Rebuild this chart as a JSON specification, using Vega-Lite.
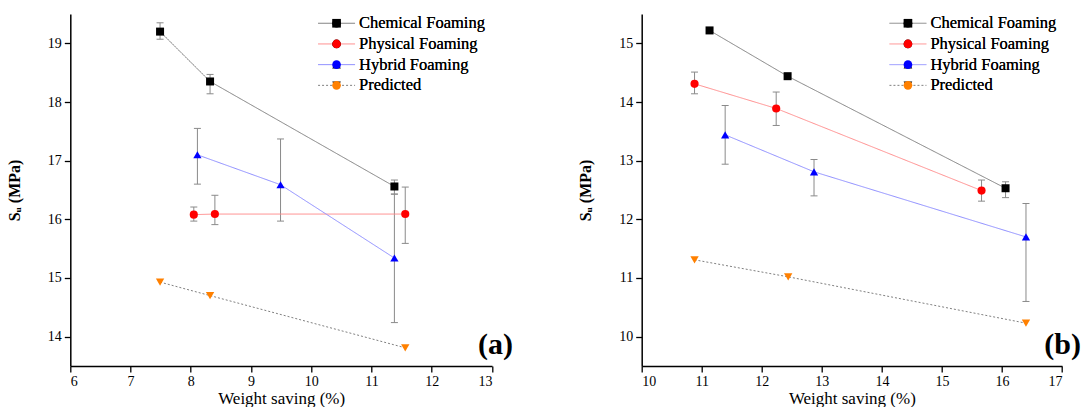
{
  "$schema": "https://vega.github.io/schema/vega-lite/v6.json",
  "background": "white",
  "padding": {"left": 6.3, "top": 14, "right": 0, "bottom": 0},
  "spacing": 64.4,
  "config": {
    "view": {"stroke": null},
    "font": "Liberation Serif",
    "axis": {
      "labelFont": "Liberation Serif", "titleFont": "Liberation Serif",
      "labelFontSize": 14, "titleFontSize": 17,
      "labelColor": "black", "titleColor": "black",
      "domainColor": "black", "tickColor": "black",
      "domainWidth": 1.5, "tickWidth": 1.3, "grid": false,
      "titleFontWeight": "normal", "labelPadding": 3
    }
  },
  "datasets": {
    "a": [
      {"series": "Chemical Foaming", "x": 7.49, "y": 19.20, "lo": 19.07, "hi": 19.35},
      {"series": "Chemical Foaming", "x": 8.32, "y": 18.35, "lo": 18.14, "hi": 18.47},
      {"series": "Chemical Foaming", "x": 11.38, "y": 16.56, "lo": 16.43, "hi": 16.67},
      {"series": "Physical Foaming", "x": 8.05, "y": 16.08, "lo": 15.97, "hi": 16.21},
      {"series": "Physical Foaming", "x": 8.40, "y": 16.09, "lo": 15.91, "hi": 16.41},
      {"series": "Physical Foaming", "x": 11.56, "y": 16.09, "lo": 15.59, "hi": 16.55},
      {"series": "Hybrid Foaming", "x": 8.11, "y": 17.10, "lo": 16.60, "hi": 17.55},
      {"series": "Hybrid Foaming", "x": 9.49, "y": 16.59, "lo": 15.97, "hi": 17.37},
      {"series": "Hybrid Foaming", "x": 11.38, "y": 15.34, "lo": 14.24, "hi": 16.43},
      {"series": "Predicted", "x": 7.49, "y": 14.93},
      {"series": "Predicted", "x": 8.32, "y": 14.70},
      {"series": "Predicted", "x": 11.56, "y": 13.81}
    ],
    "b": [
      {"series": "Chemical Foaming", "x": 11.13, "y": 15.22, "lo": 15.19, "hi": 15.25},
      {"series": "Chemical Foaming", "x": 12.43, "y": 14.44, "lo": 14.40, "hi": 14.47},
      {"series": "Chemical Foaming", "x": 16.06, "y": 12.53, "lo": 12.37, "hi": 12.64},
      {"series": "Physical Foaming", "x": 10.88, "y": 14.31, "lo": 14.14, "hi": 14.51},
      {"series": "Physical Foaming", "x": 12.24, "y": 13.89, "lo": 13.60, "hi": 14.17},
      {"series": "Physical Foaming", "x": 15.66, "y": 12.49, "lo": 12.31, "hi": 12.67},
      {"series": "Hybrid Foaming", "x": 11.39, "y": 13.44, "lo": 12.94, "hi": 13.94},
      {"series": "Hybrid Foaming", "x": 12.87, "y": 12.81, "lo": 12.40, "hi": 13.02},
      {"series": "Hybrid Foaming", "x": 16.40, "y": 11.70, "lo": 10.60, "hi": 12.27},
      {"series": "Predicted", "x": 10.88, "y": 11.31},
      {"series": "Predicted", "x": 12.44, "y": 11.02},
      {"series": "Predicted", "x": 16.40, "y": 10.23}
    ]
  },
  "hconcat": [
    {
      "width": 421.7, "height": 352,
      "title": {"text": "(a)", "orient": "top", "anchor": "end", "frame": "group", "offset": 0, "dy": 370, "dx": 21, "baseline": "alphabetic", "fontSize": 30, "fontWeight": "bold", "font": "Liberation Serif", "color": "black"},
      "data": {"name": "a"},
      "layer": [
        {
          "transform": [{"filter": "datum.lo != null"}],
          "mark": {"type": "rule", "color": "#8a8a8a", "strokeWidth": 1},
          "encoding": {
            "x": {"field": "x", "type": "quantitative", "scale": {"domain": [6, 13], "nice": false, "zero": false}, "axis": {"title": "Weight saving (%)", "titlePadding": 2, "labelFont": "Liberation Serif", "values": [6, 6.5, 7, 7.5, 8, 8.5, 9, 9.5, 10, 10.5, 11, 11.5, 12, 12.5, 13], "labelExpr": "datum.value % 1 === 0 ? format(datum.value, 'd') : ''", "tickSize": {"condition": {"test": "datum.value % 1 !== 0", "value": 3.5}, "value": 6}}},
            "y": {"field": "lo", "type": "quantitative", "scale": {"domain": [13.5, 19.5], "nice": false, "zero": false}, "axis": {"title": "Sᵤ (MPa)", "titleFontWeight": "bold", "titleFontSize": 16, "titlePadding": 25, "labelFont": "Liberation Serif", "values": [14, 14.5, 15, 15.5, 16, 16.5, 17, 17.5, 18, 18.5, 19, 19.5], "labelExpr": "datum.value % 1 === 0 ? format(datum.value, 'd') : ''", "tickSize": {"condition": {"test": "datum.value % 1 !== 0", "value": 3.5}, "value": 6}}},
            "y2": {"field": "hi"}
          }
        },
        {
          "transform": [{"filter": "datum.lo != null"}],
          "mark": {"type": "tick", "orient": "horizontal", "size": 7, "thickness": 1, "color": "#8a8a8a", "opacity": 1},
          "encoding": {
            "x": {"field": "x", "type": "quantitative"},
            "y": {"field": "lo", "type": "quantitative"}
          }
        },
        {
          "transform": [{"filter": "datum.hi != null"}],
          "mark": {"type": "tick", "orient": "horizontal", "size": 7, "thickness": 1, "color": "#8a8a8a", "opacity": 1},
          "encoding": {
            "x": {"field": "x", "type": "quantitative"},
            "y": {"field": "hi", "type": "quantitative"}
          }
        },
        {
          "mark": {"type": "line", "strokeWidth": 1},
          "encoding": {
            "x": {"field": "x", "type": "quantitative"},
            "y": {"field": "y", "type": "quantitative"},
            "stroke": {"field": "series", "type": "nominal", "scale": {"domain": ["Chemical Foaming", "Physical Foaming", "Hybrid Foaming", "Predicted"], "range": ["#808080", "#ff8c8c", "#8c8cff", "#808080"]}, "legend": {"title": null, "orient": "none", "legendX": 258, "legendY": 1, "symbolType": "M-3.7,0H3.7", "symbolSize": 100, "symbolStrokeWidth": 1, "symbolFillColor": "transparent", "labelOpacity": 0, "labelFontSize": 16.5, "labelFont": "Liberation Serif", "rowPadding": 3.7, "padding": 0, "zindex": 0}},
            "strokeDash": {"field": "series", "type": "nominal", "scale": {"domain": ["Chemical Foaming", "Physical Foaming", "Hybrid Foaming", "Predicted"], "range": [[1, 0], [1, 0], [1, 0], [2, 2]]}, "legend": {"title": null, "orient": "none", "legendX": 258, "legendY": 1, "symbolType": "M-3.7,0H3.7", "symbolSize": 100, "symbolStrokeWidth": 1, "symbolFillColor": "transparent", "labelOpacity": 0, "labelFontSize": 16.5, "labelFont": "Liberation Serif", "rowPadding": 3.7, "padding": 0, "zindex": 0}}
          }
        },
        {
          "mark": {"type": "point", "filled": true, "opacity": 1, "strokeWidth": 0},
          "encoding": {
            "x": {"field": "x", "type": "quantitative"},
            "y": {"field": "y", "type": "quantitative"},
            "fill": {"field": "series", "type": "nominal", "sort": ["Chemical Foaming", "Physical Foaming", "Hybrid Foaming", "Predicted"], "scale": {"range": ["#000000", "#ff0000", "#0000ff", "#ff8000"]}, "legend": {"title": null, "orient": "none", "legendX": 258, "legendY": 1, "symbolSize": 75, "symbolStrokeWidth": 0, "symbolOpacity": 1, "labelOffset": 14.2, "labelFontSize": 16.5, "labelFont": "Liberation Serif", "labelColor": "black", "rowPadding": 3.7, "padding": 0, "zindex": 1}},
            "shape": {"field": "series", "type": "nominal", "sort": ["Chemical Foaming", "Physical Foaming", "Hybrid Foaming", "Predicted"], "scale": {"range": ["square", "circle", "triangle-up", "triangle-down"]}, "legend": {"title": null, "orient": "none", "legendX": 258, "legendY": 1, "symbolSize": 75, "symbolStrokeWidth": 0, "symbolOpacity": 1, "labelOffset": 14.2, "labelFontSize": 16.5, "labelFont": "Liberation Serif", "labelColor": "black", "rowPadding": 3.7, "padding": 0, "zindex": 1}},
            "size": {"field": "series", "type": "nominal", "scale": {"domain": ["Chemical Foaming", "Physical Foaming", "Hybrid Foaming", "Predicted"], "range": [64, 70, 100, 100]}, "legend": null}
          }
        }
      ]
    },
    {
      "width": 420.3, "height": 352,
      "title": {"text": "(b)", "orient": "top", "anchor": "end", "frame": "group", "offset": 0, "dy": 370, "dx": 19, "baseline": "alphabetic", "fontSize": 30, "fontWeight": "bold", "font": "Liberation Serif", "color": "black"},
      "data": {"name": "b"},
      "layer": [
        {
          "transform": [{"filter": "datum.lo != null"}],
          "mark": {"type": "rule", "color": "#8a8a8a", "strokeWidth": 1},
          "encoding": {
            "x": {"field": "x", "type": "quantitative", "scale": {"domain": [10, 17], "nice": false, "zero": false}, "axis": {"title": "Weight saving (%)", "titlePadding": 2, "labelFont": "Liberation Serif", "values": [10, 10.5, 11, 11.5, 12, 12.5, 13, 13.5, 14, 14.5, 15, 15.5, 16, 16.5, 17], "labelExpr": "datum.value % 1 === 0 ? format(datum.value, 'd') : ''", "tickSize": {"condition": {"test": "datum.value % 1 !== 0", "value": 3.5}, "value": 6}}},
            "y": {"field": "lo", "type": "quantitative", "scale": {"domain": [9.5, 15.5], "nice": false, "zero": false}, "axis": {"title": "Sᵤ (MPa)", "titleFontWeight": "bold", "titleFontSize": 16, "titlePadding": 25, "labelFont": "Liberation Serif", "values": [10, 10.5, 11, 11.5, 12, 12.5, 13, 13.5, 14, 14.5, 15, 15.5], "labelExpr": "datum.value % 1 === 0 ? format(datum.value, 'd') : ''", "tickSize": {"condition": {"test": "datum.value % 1 !== 0", "value": 3.5}, "value": 6}}},
            "y2": {"field": "hi"}
          }
        },
        {
          "transform": [{"filter": "datum.lo != null"}],
          "mark": {"type": "tick", "orient": "horizontal", "size": 7, "thickness": 1, "color": "#8a8a8a", "opacity": 1},
          "encoding": {
            "x": {"field": "x", "type": "quantitative"},
            "y": {"field": "lo", "type": "quantitative"}
          }
        },
        {
          "transform": [{"filter": "datum.hi != null"}],
          "mark": {"type": "tick", "orient": "horizontal", "size": 7, "thickness": 1, "color": "#8a8a8a", "opacity": 1},
          "encoding": {
            "x": {"field": "x", "type": "quantitative"},
            "y": {"field": "hi", "type": "quantitative"}
          }
        },
        {
          "mark": {"type": "line", "strokeWidth": 1},
          "encoding": {
            "x": {"field": "x", "type": "quantitative"},
            "y": {"field": "y", "type": "quantitative"},
            "stroke": {"field": "series", "type": "nominal", "scale": {"domain": ["Chemical Foaming", "Physical Foaming", "Hybrid Foaming", "Predicted"], "range": ["#808080", "#ff8c8c", "#8c8cff", "#808080"]}, "legend": {"title": null, "orient": "none", "legendX": 258, "legendY": 1, "symbolType": "M-3.7,0H3.7", "symbolSize": 100, "symbolStrokeWidth": 1, "symbolFillColor": "transparent", "labelOpacity": 0, "labelFontSize": 16.5, "labelFont": "Liberation Serif", "rowPadding": 3.7, "padding": 0, "zindex": 0}},
            "strokeDash": {"field": "series", "type": "nominal", "scale": {"domain": ["Chemical Foaming", "Physical Foaming", "Hybrid Foaming", "Predicted"], "range": [[1, 0], [1, 0], [1, 0], [2, 2]]}, "legend": {"title": null, "orient": "none", "legendX": 258, "legendY": 1, "symbolType": "M-3.7,0H3.7", "symbolSize": 100, "symbolStrokeWidth": 1, "symbolFillColor": "transparent", "labelOpacity": 0, "labelFontSize": 16.5, "labelFont": "Liberation Serif", "rowPadding": 3.7, "padding": 0, "zindex": 0}}
          }
        },
        {
          "mark": {"type": "point", "filled": true, "opacity": 1, "strokeWidth": 0},
          "encoding": {
            "x": {"field": "x", "type": "quantitative"},
            "y": {"field": "y", "type": "quantitative"},
            "fill": {"field": "series", "type": "nominal", "sort": ["Chemical Foaming", "Physical Foaming", "Hybrid Foaming", "Predicted"], "scale": {"range": ["#000000", "#ff0000", "#0000ff", "#ff8000"]}, "legend": {"title": null, "orient": "none", "legendX": 258, "legendY": 1, "symbolSize": 75, "symbolStrokeWidth": 0, "symbolOpacity": 1, "labelOffset": 14.2, "labelFontSize": 16.5, "labelFont": "Liberation Serif", "labelColor": "black", "rowPadding": 3.7, "padding": 0, "zindex": 1}},
            "shape": {"field": "series", "type": "nominal", "sort": ["Chemical Foaming", "Physical Foaming", "Hybrid Foaming", "Predicted"], "scale": {"range": ["square", "circle", "triangle-up", "triangle-down"]}, "legend": {"title": null, "orient": "none", "legendX": 258, "legendY": 1, "symbolSize": 75, "symbolStrokeWidth": 0, "symbolOpacity": 1, "labelOffset": 14.2, "labelFontSize": 16.5, "labelFont": "Liberation Serif", "labelColor": "black", "rowPadding": 3.7, "padding": 0, "zindex": 1}},
            "size": {"field": "series", "type": "nominal", "scale": {"domain": ["Chemical Foaming", "Physical Foaming", "Hybrid Foaming", "Predicted"], "range": [64, 70, 100, 100]}, "legend": null}
          }
        }
      ]
    }
  ],
  "resolve": {"scale": {"stroke": "independent", "strokeDash": "independent", "fill": "independent", "shape": "independent"}}
}
